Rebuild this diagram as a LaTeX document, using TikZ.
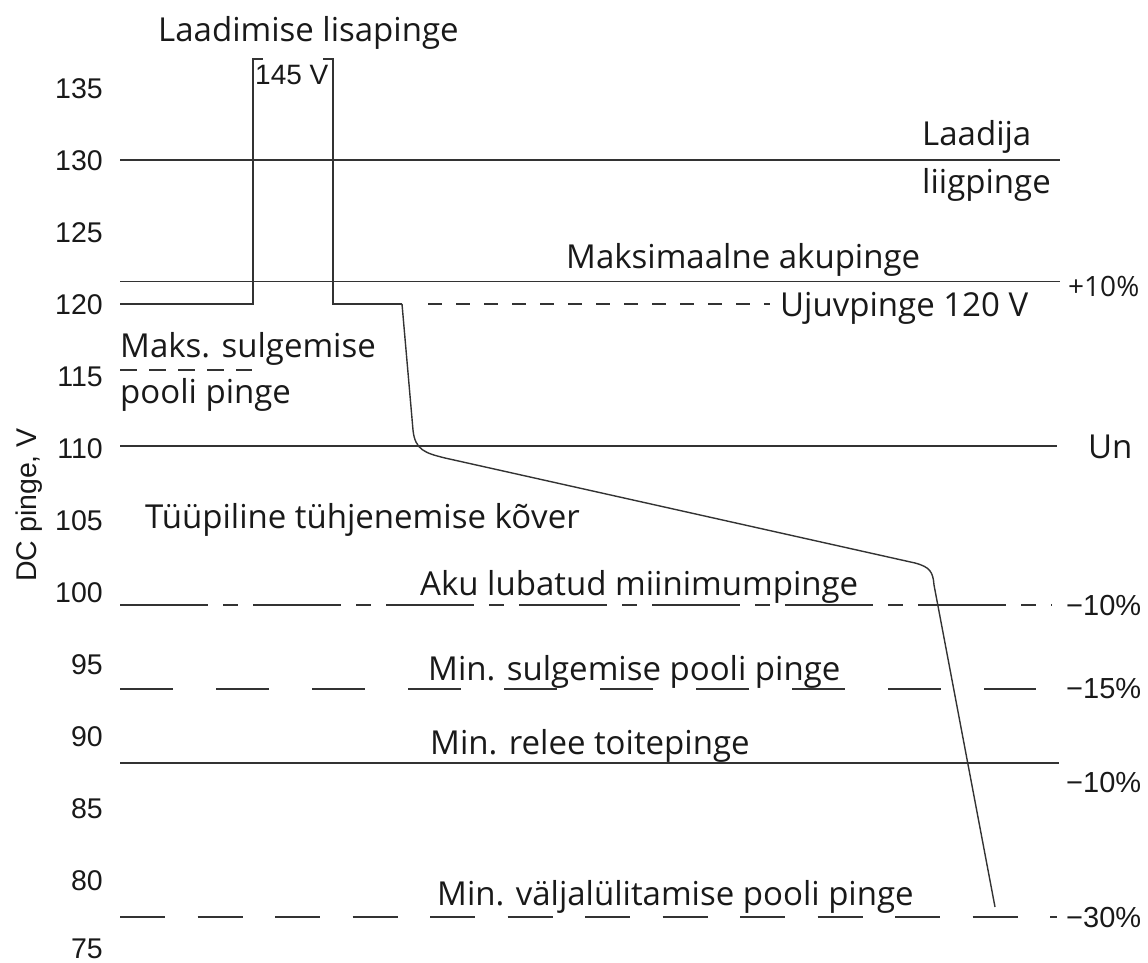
\documentclass[tikz,border=0pt]{standalone}
\usepackage{fontspec}
\setmainfont{Open Sans}
\newfontfamily\numfont{Liberation Sans}
\begin{document}
\begin{tikzpicture}[x=1pt,y=-1pt,
  lbl/.style={font=\fontsize{33}{36}\selectfont, inner sep=0pt, anchor=base west, text=black!90},
  num/.style={font=\numfont\fontsize{28.5}{30}\selectfont, inner sep=0pt, anchor=base east, text=black!90},
  pct/.style={font=\numfont\fontsize{29}{30}\selectfont, inner sep=0pt, anchor=base west, text=black!90},
  ln/.style={line width=1.4pt, draw=black!80},
]
\useasboundingbox (0,0) rectangle (1148,963);
% tick numbers
\foreach \v/\n in {135/a,130/b,125/c,120/d,115/e,110/f,105/g,100/h,95/i,90/j,85/k,80/l,75/m}{
  \node[num] (t\n) at (103,{min(304+(120-\v)*14.4+10.5,958)}) {\v};
}
\node[font=\numfont\fontsize{28.5}{30}\selectfont, rotate=90, inner sep=0pt, text=black!90] (ylab) at (29,505) {DC pinge, V};

% coordinates
\coordinate (l130a) at (120,160); \coordinate (l130b) at (1060,160);
\coordinate (maxa) at (120,281.5); \coordinate (maxb) at (1060,281.5);
\coordinate (f0) at (120,304); \coordinate (f1) at (253,304); \coordinate (f2) at (253,59); \coordinate (f3) at (263,59);
\coordinate (g0) at (323,59); \coordinate (g1) at (333,59); \coordinate (g2) at (333,304); \coordinate (g3) at (402,304);
\coordinate (fd0) at (428,304); \coordinate (fd1) at (770,304);
\coordinate (d1) at (413,430); \coordinate (d2) at (445,458); \coordinate (d3) at (915,563); \coordinate (d4) at (934,585); \coordinate (d5) at (995,907);
\coordinate (ms0) at (120,370); \coordinate (ms1) at (252,370);
\coordinate (un0) at (120,446); \coordinate (un1) at (1057,446);
\coordinate (ak0) at (120,605); \coordinate (ak1) at (1052,605);
\coordinate (mn0) at (120,689); \coordinate (mn1) at (1036,689);
\coordinate (rl0) at (120,763); \coordinate (rl1) at (1059,763);
\coordinate (vl0) at (120,917); \coordinate (vl1) at (1057,917);

% lines
\draw[ln] (l130a) -- (l130b);
\draw[ln] (maxa) -- (maxb);
\draw[ln] (f0) -- (f1) -- (f2) -- (f3);
\draw[ln] (g0) -- (g1) -- (g2) -- (g3);
\draw[ln, dash pattern=on 14pt off 14pt] (fd0) -- (fd1);
\draw[ln] (g3) -- (d1) .. controls (415,450) and (425,453) .. (d2) -- (d3) .. controls (930,567) and (933,572) .. (d4) -- (d5);
\draw[ln, dash pattern=on 17pt off 12pt] (ms0) -- (ms1);
\draw[ln] (un0) -- (un1);
\draw[ln, dash pattern=on 88pt off 15pt on 15pt off 15pt] (ak0) -- (ak1);
\draw[ln, dash pattern=on 53pt off 43pt] (mn0) -- (mn1);
\draw[ln] (rl0) -- (rl1);
\draw[ln, dash pattern=on 45pt off 32.5pt] (vl0) -- (vl1);

% labels
\node[lbl] (laad) at (158,42) {Laadimise lisapinge};
\node[pct, font=\numfont\fontsize{28}{30}\selectfont] (v145) at (255,85) {145 V};
\node[lbl] (lj1) at (922,146) {Laadija};
\node[lbl] (lj2) at (922,193) {liigpinge};
\node[lbl] (maxt) at (566,268) {Maksimaalne akupinge};
\node[lbl] (ujuv) at (780,316) {Ujuvpinge 120 V};
\node[lbl, font=\fontsize{28}{30}\selectfont] (p10) at (1068,296) {+10\%};
\node[lbl] (maks1) at (120,357) {Maks. sulgemise};
\node[lbl] (maks2) at (120,403) {pooli pinge};
\node[lbl] (un) at (1088,458) {Un};
\node[lbl] (typ) at (145,528) {Tüüpiline tühjenemise kõver};
\node[lbl] (aku) at (420,595) {Aku lubatud miinimumpinge};
\node[lbl] (msul) at (428,680) {Min. sulgemise pooli pinge};
\node[lbl] (mrel) at (430,754) {Min. relee toitepinge};
\node[lbl] (mval) at (437,905) {Min. väljalülitamise pooli pinge};
\node[pct] (m10a) at (1066,615) {\char"2212 10\%};
\node[pct] (m15) at (1066,698) {\char"2212 15\%};
\node[pct] (m10b) at (1066,792) {\char"2212 10\%};
\node[pct] (m30) at (1066,927) {\char"2212 30\%};
\end{tikzpicture}
\end{document}
